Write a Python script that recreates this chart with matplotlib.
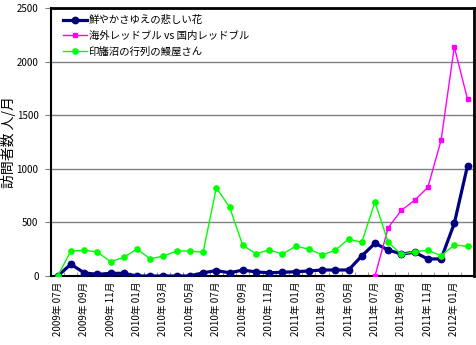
import matplotlib
matplotlib.use("Agg")
import matplotlib.pyplot as plt
import numpy as np

plt.rcParams['font.family'] = ['Noto Sans CJK JP', 'DejaVu Sans']

# Monthly visitors, July 2009 - February 2012
months = ["2009年 07月", "2009年 08月", "2009年 09月", "2009年 10月", "2009年 11月", "2009年 12月",
          "2010年 01月", "2010年 02月", "2010年 03月", "2010年 04月", "2010年 05月", "2010年 06月",
          "2010年 07月", "2010年 08月", "2010年 09月", "2010年 10月", "2010年 11月", "2010年 12月",
          "2011年 01月", "2011年 02月", "2011年 03月", "2011年 04月", "2011年 05月", "2011年 06月",
          "2011年 07月", "2011年 08月", "2011年 09月", "2011年 10月", "2011年 11月", "2011年 12月",
          "2012年 01月", "2012年 02月"]

hana = [0, 110, 30, 15, 25, 25, 0, 0, 0, 0, 0, 30, 50, 30, 55, 38,
        30, 35, 40, 47, 56, 56, 56, 187, 305, 243, 205, 221, 159, 159, 491, 1029]

redbull = [np.nan] * 24 + [0, 451, 613, 706, 827, 1266, 2137, 1649]

unagi = [0, 233, 240, 224, 134, 174, 252, 159, 187, 233, 233, 221, 821, 644, 286, 208,
         243, 205, 277, 252, 196, 240, 345, 314, 690, 314, 202, 227, 240, 190, 289, 277]

names = ["鮮やかさゆえの悲しい花", "海外レッドブル vs 国内レッドブル", "印旛沼の行列の鰻屋さん"]

fig = plt.figure(figsize=(4.77, 3.45), dpi=100)
ax = fig.add_axes([0.107, 0.2, 0.887, 0.777])

x = np.arange(len(months))
ax.plot(x, hana, color="#000080", lw=2.3, marker="o", ms=4.6, label=names[0], zorder=3)
ax.plot(x, redbull, color="#FF00FF", lw=1.0, marker="s", ms=3.0, label=names[1], zorder=4)
ax.plot(x, unagi, color="#00FF00", lw=1.0, marker="o", ms=3.8, label=names[2], zorder=5)

ax.set_xlim(-0.5, len(months) - 0.5)
ax.set_ylim(0, 2500)
ax.set_yticks([0, 500, 1000, 1500, 2000, 2500])
ax.yaxis.grid(True, color="#808080", lw=1.0)
ax.set_axisbelow(True)
ax.tick_params(axis='y', labelsize=7, length=4, color="#808080", pad=5)

ax.set_xticks(x[::2])
ax.set_xticklabels(months[::2], rotation=90, fontsize=7)
ax.set_xticks(np.arange(len(months) + 1) - 0.5, minor=True)
ax.tick_params(axis='x', which='major', length=0, pad=4)
ax.tick_params(axis='x', which='minor', length=3, direction='in', color="#808080")

for side in ["left", "bottom"]:
    ax.spines[side].set_linewidth(1.5)
for side in ["top", "right"]:
    ax.spines[side].set_linewidth(2.0)

ax.set_ylabel("訪問者数 人/月", fontsize=10)
ax.yaxis.set_label_coords(-0.083, 0.5)

ax.legend(loc="upper left", frameon=False, fontsize=7.5, handlelength=2.3,
          handletextpad=0.2, labelspacing=0.55, borderaxespad=0.3,
          bbox_to_anchor=(0.01, 1.0))

fig.savefig("out.png", dpi=100)
